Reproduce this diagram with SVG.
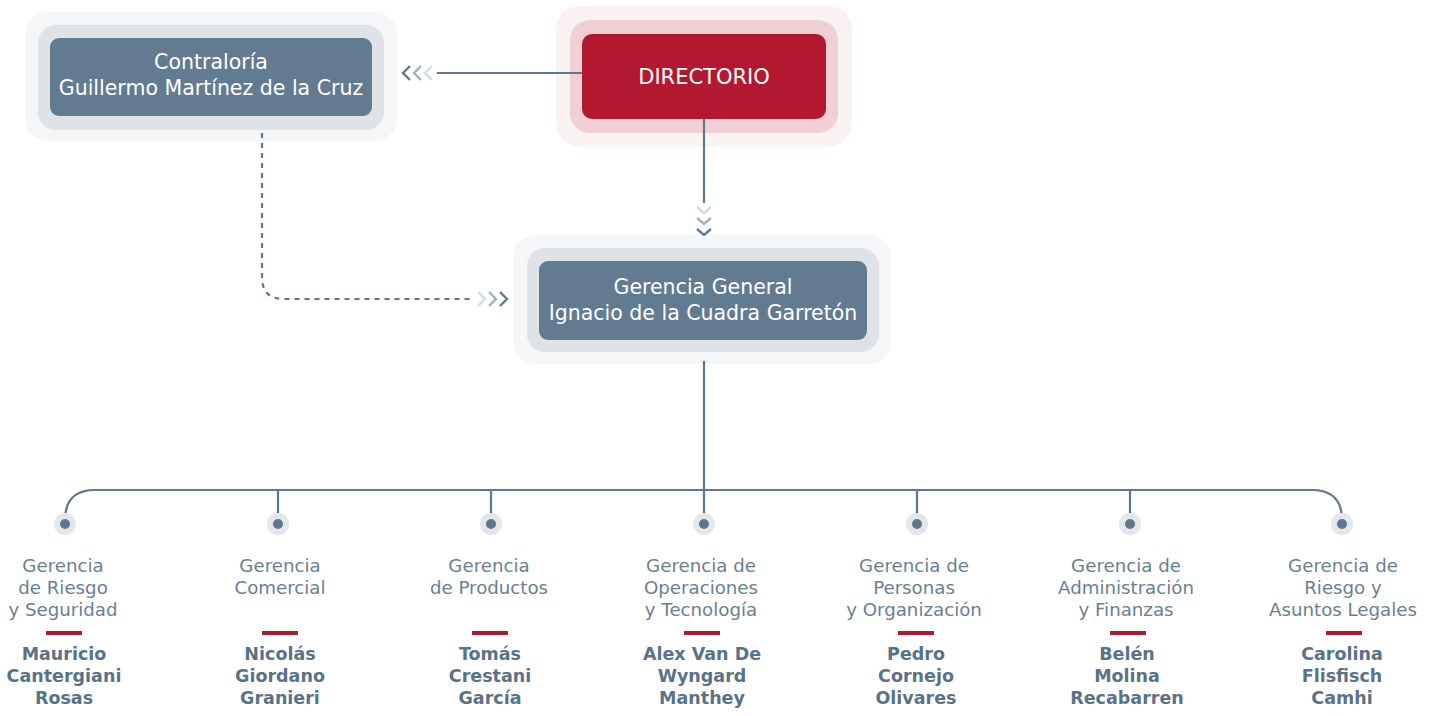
<svg xmlns="http://www.w3.org/2000/svg" width="1429" height="716" viewBox="0 0 1429 716">
<style>
.t{font-family:"DejaVu Sans","Noto Sans",sans-serif;font-size:20.5px;fill:#ffffff;text-anchor:middle}
.lab{font-family:"DejaVu Sans","Noto Sans",sans-serif;font-size:18.2px;fill:#6a7f92;text-anchor:middle}
.nm{font-family:"DejaVu Sans","Noto Sans",sans-serif;font-size:17.5px;font-weight:bold;fill:#5a7288;text-anchor:middle}
.ln{stroke:#5f7890;stroke-width:2.2;fill:none}
.dash{stroke:#5f7890;stroke-width:2.2;fill:none;stroke-dasharray:5 5}
.c1{stroke:#5f7890;stroke-width:2.4;fill:none}
.c2{stroke:#9fb0bf;stroke-width:2.4;fill:none}
.c3{stroke:#d3dbe2;stroke-width:2.4;fill:none}
.bar{fill:#b31831}
.halo{fill:#e3e6ea}
.dot{fill:#5f7890}
</style>
<rect width="1429" height="716" fill="#ffffff"/>
<g id="contraloria">
<rect x="25" y="12" width="372" height="129" rx="22" fill="#f5f6f8"/>
<rect x="38" y="25" width="346" height="105" rx="18" fill="#dfe3e7"/>
<rect x="50" y="38" width="322" height="78" rx="9" fill="#637b91"/>
<text class="t" x="211" y="69">Contraloría</text>
<text class="t" x="211" y="95">Guillermo Martínez de la Cruz</text>
</g>
<g id="directorio">
<rect x="556" y="6" width="296" height="141" rx="24" fill="#fbf2f4"/>
<rect x="570" y="20" width="268" height="113" rx="20" fill="#f0cfd5"/>
<rect x="582" y="34" width="244" height="85" rx="10" fill="#b31831"/>
<text class="t" x="704" y="84" style="font-size:21px">DIRECTORIO</text>
</g>
<g id="gerencia-general">
<rect x="513" y="235" width="378" height="129" rx="22" fill="#f5f6f8"/>
<rect x="527" y="248" width="352" height="104" rx="18" fill="#dfe3e7"/>
<rect x="539" y="261" width="328" height="79" rx="9" fill="#637b91"/>
<text class="t" x="703" y="294">Gerencia General</text>
<text class="t" x="703" y="320">Ignacio de la Cuadra Garretón</text>
</g>
<g id="connectors">
<line class="ln" x1="582" y1="73" x2="437" y2="73"/>
<polyline class="c3" points="432,66 425,73 432,80"/>
<polyline class="c2" points="421,66 414,73 421,80"/>
<polyline class="c1" points="410,66 403,73 410,80"/>
<line class="ln" x1="704" y1="119" x2="704" y2="203"/>
<polyline class="c3" points="697,207 704,213 711,207"/>
<polyline class="c2" points="697,218 704,224 711,218"/>
<polyline class="c1" points="697,229 704,235 711,229"/>
<path class="dash" d="M262,133 V277 Q262,299 284,299 H472"/>
<polyline class="c3" points="478,292 485,299 478,306"/>
<polyline class="c2" points="489,292 496,299 489,306"/>
<polyline class="c1" points="500,292 507,299 500,306"/>
<line class="ln" x1="704" y1="361" x2="704" y2="490"/>
<path class="ln" d="M65,522 V520 Q65,490 95,490 H1312 Q1342,490 1342,520 V522"/>
<line class="ln" x1="278" y1="490" x2="278" y2="522"/>
<line class="ln" x1="491" y1="490" x2="491" y2="522"/>
<line class="ln" x1="704" y1="490" x2="704" y2="522"/>
<line class="ln" x1="917" y1="490" x2="917" y2="522"/>
<line class="ln" x1="1130" y1="490" x2="1130" y2="522"/>
</g>
<g id="g1">
<circle class="halo" cx="65" cy="524" r="11"/><circle class="dot" cx="65" cy="524" r="5"/>
<text class="lab" x="63" y="572">Gerencia</text><text class="lab" x="63" y="594">de Riesgo</text><text class="lab" x="63" y="616">y Seguridad</text>
<rect class="bar" x="46" y="631" width="36" height="4"/>
<text class="nm" x="64" y="660">Mauricio</text><text class="nm" x="64" y="682">Cantergiani</text><text class="nm" x="64" y="704">Rosas</text>
</g>
<g id="g2">
<circle class="halo" cx="278" cy="524" r="11"/><circle class="dot" cx="278" cy="524" r="5"/>
<text class="lab" x="280" y="572">Gerencia</text><text class="lab" x="280" y="594">Comercial</text>
<rect class="bar" x="262" y="631" width="36" height="4"/>
<text class="nm" x="280" y="660">Nicolás</text><text class="nm" x="280" y="682">Giordano</text><text class="nm" x="280" y="704">Granieri</text>
</g>
<g id="g3">
<circle class="halo" cx="491" cy="524" r="11"/><circle class="dot" cx="491" cy="524" r="5"/>
<text class="lab" x="489" y="572">Gerencia</text><text class="lab" x="489" y="594">de Productos</text>
<rect class="bar" x="472" y="631" width="36" height="4"/>
<text class="nm" x="490" y="660">Tomás</text><text class="nm" x="490" y="682">Crestani</text><text class="nm" x="490" y="704">García</text>
</g>
<g id="g4">
<circle class="halo" cx="704" cy="524" r="11"/><circle class="dot" cx="704" cy="524" r="5"/>
<text class="lab" x="701" y="572">Gerencia de</text><text class="lab" x="701" y="594">Operaciones</text><text class="lab" x="701" y="616">y Tecnología</text>
<rect class="bar" x="684" y="631" width="36" height="4"/>
<text class="nm" x="702" y="660">Alex Van De</text><text class="nm" x="702" y="682">Wyngard</text><text class="nm" x="702" y="704">Manthey</text>
</g>
<g id="g5">
<circle class="halo" cx="917" cy="524" r="11"/><circle class="dot" cx="917" cy="524" r="5"/>
<text class="lab" x="914" y="572">Gerencia de</text><text class="lab" x="914" y="594">Personas</text><text class="lab" x="914" y="616">y Organización</text>
<rect class="bar" x="898" y="631" width="36" height="4"/>
<text class="nm" x="916" y="660">Pedro</text><text class="nm" x="916" y="682">Cornejo</text><text class="nm" x="916" y="704">Olivares</text>
</g>
<g id="g6">
<circle class="halo" cx="1130" cy="524" r="11"/><circle class="dot" cx="1130" cy="524" r="5"/>
<text class="lab" x="1126" y="572">Gerencia de</text><text class="lab" x="1126" y="594">Administración</text><text class="lab" x="1126" y="616">y Finanzas</text>
<rect class="bar" x="1110" y="631" width="36" height="4"/>
<text class="nm" x="1127" y="660">Belén</text><text class="nm" x="1127" y="682">Molina</text><text class="nm" x="1127" y="704">Recabarren</text>
</g>
<g id="g7">
<circle class="halo" cx="1342" cy="524" r="11"/><circle class="dot" cx="1342" cy="524" r="5"/>
<text class="lab" x="1343" y="572">Gerencia de</text><text class="lab" x="1343" y="594">Riesgo y</text><text class="lab" x="1343" y="616">Asuntos Legales</text>
<rect class="bar" x="1326" y="631" width="36" height="4"/>
<text class="nm" x="1342" y="660">Carolina</text><text class="nm" x="1342" y="682">Flisfisch</text><text class="nm" x="1342" y="704">Camhi</text>
</g>
</svg>
